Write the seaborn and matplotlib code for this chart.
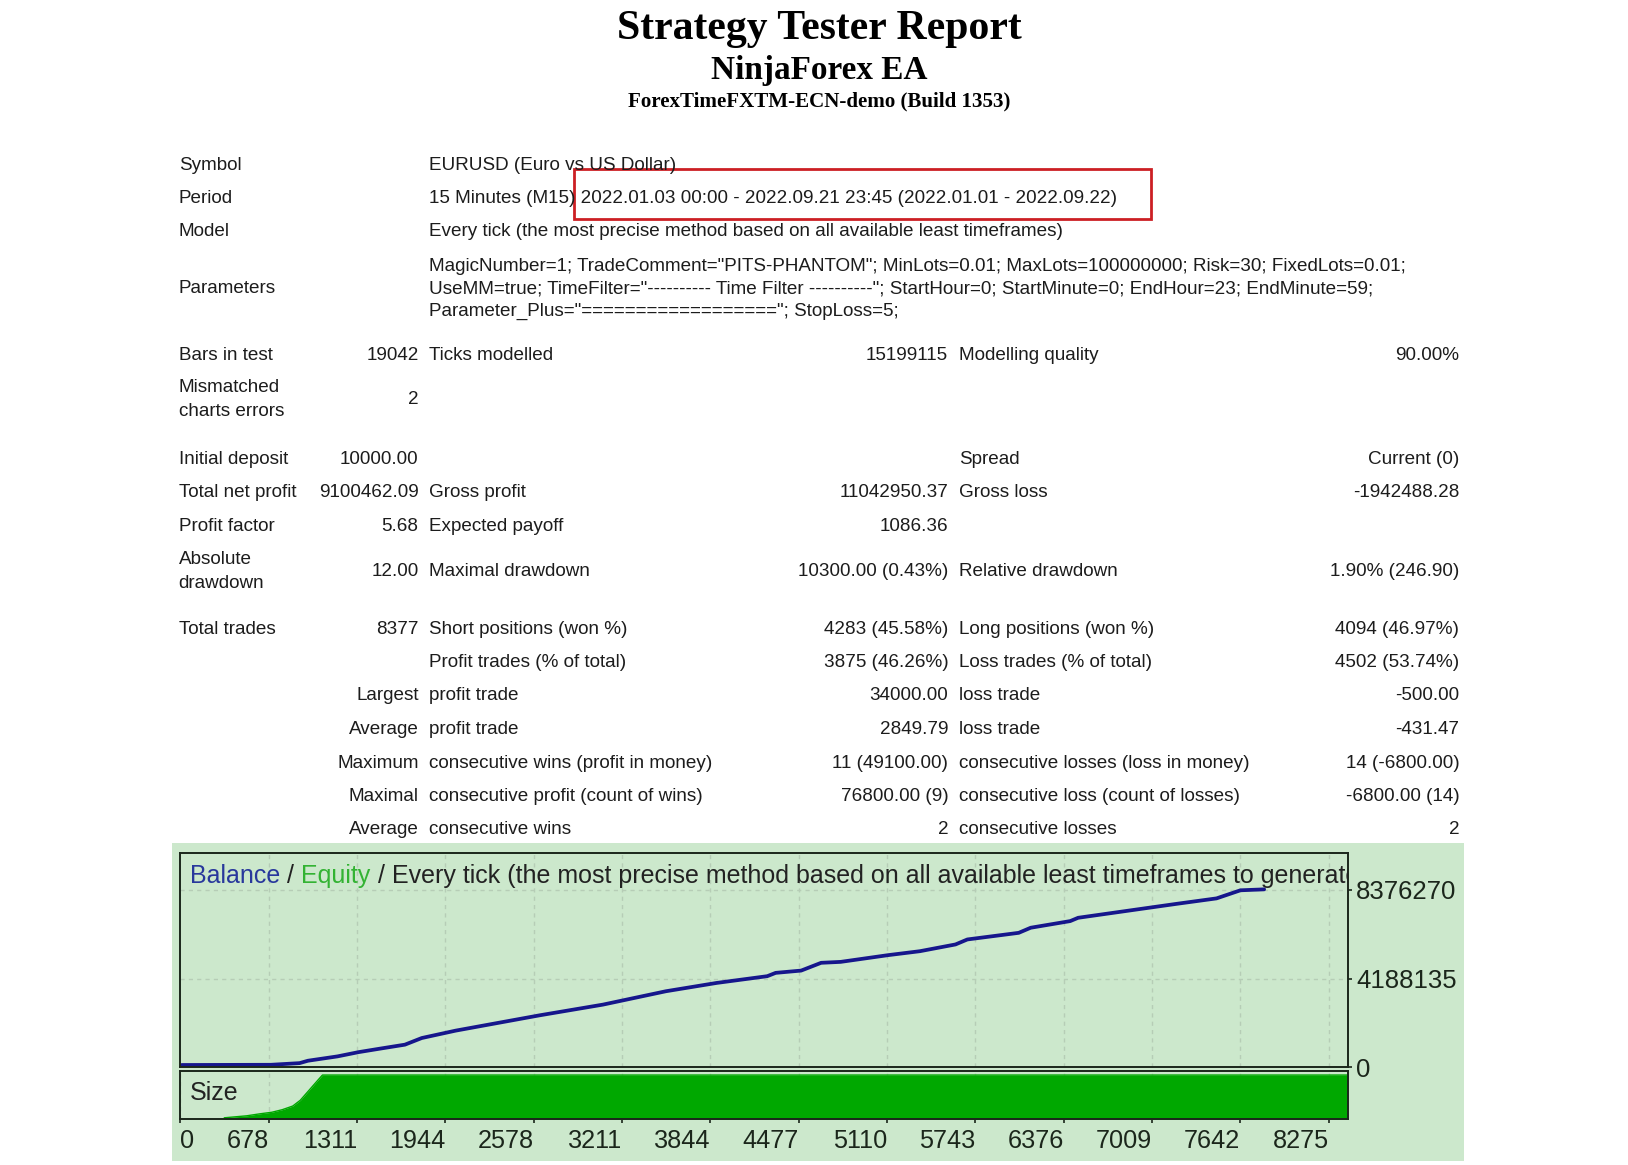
import numpy as np
import pandas as pd
import matplotlib
matplotlib.use("Agg")
import matplotlib.pyplot as plt
from matplotlib.patches import Rectangle
import seaborn as sns

sns.set_theme(style="white")
plt.rcParams["font.family"] = ["Liberation Sans", "DejaVu Sans"]

# ---------------- report text ----------------
title_main = "Strategy Tester Report"
title_ea = "NinjaForex EA"
title_server = "ForexTimeFXTM-ECN-demo (Build 1353)"

info_labels = ["Symbol", "Period", "Model"]
info_values = [
    "EURUSD (Euro vs US Dollar)",
    "15 Minutes (M15) 2022.01.03 00:00 - 2022.09.21 23:45 (2022.01.01 - 2022.09.22)",
    "Every tick (the most precise method based on all available least timeframes)",
]
param_label = "Parameters"
param_lines = [
    'MagicNumber=1; TradeComment="PITS-PHANTOM"; MinLots=0.01; MaxLots=100000000; Risk=30; FixedLots=0.01;',
    'UseMM=true; TimeFilter="---------- Time Filter ----------"; StartHour=0; StartMinute=0; EndHour=23; EndMinute=59;',
    'Parameter_Plus="=================="; StopLoss=5;',
]

stat_col_a = ["Bars in test", "Mismatched\ncharts errors", "Initial deposit", "Total net profit",
              "Profit factor", "Absolute\ndrawdown", "Total trades", "", "", "", "", "", ""]
stat_col_b = ["19042", "2", "10000.00", "9100462.09", "5.68", "12.00", "8377", "",
              "Largest", "Average", "Maximum", "Maximal", "Average"]
stat_col_c = ["Ticks modelled", "", "", "Gross profit", "Expected payoff", "Maximal drawdown",
              "Short positions (won %)", "Profit trades (% of total)", "profit trade", "profit trade",
              "consecutive wins (profit in money)", "consecutive profit (count of wins)", "consecutive wins"]
stat_col_d = ["15199115", "", "", "11042950.37", "1086.36", "10300.00 (0.43%)", "4283 (45.58%)",
              "3875 (46.26%)", "34000.00", "2849.79", "11 (49100.00)", "76800.00 (9)", "2"]
stat_col_e = ["Modelling quality", "", "Spread", "Gross loss", "", "Relative drawdown",
              "Long positions (won %)", "Loss trades (% of total)", "loss trade", "loss trade",
              "consecutive losses (loss in money)", "consecutive loss (count of losses)", "consecutive losses"]
stat_col_f = ["90.00%", "", "Current (0)", "-1942488.28", "", "1.90% (246.90)", "4094 (46.97%)",
              "4502 (53.74%)", "-500.00", "-431.47", "14 (-6800.00)", "-6800.00 (14)", "2"]

# ---------------- chart data ----------------
bal_trade = [54, 694, 899, 959, 1171, 1322, 1473, 1654, 1775, 2017, 2318, 2620, 3073, 3525,
             3888, 4251, 4311, 4494, 4637, 4777, 5118, 5345, 5600, 5685, 6053, 6139, 6422,
             6479, 6904, 7188, 7471, 7642, 7812]
bal_value = [117000, 127000, 205000, 318000, 523000, 723000, 885000, 1075000, 1388000, 1735000,
             2096000, 2458000, 2961000, 3592000, 3983000, 4301000, 4457000, 4565000, 4931000,
             4975000, 5293000, 5478000, 5796000, 6031000, 6343000, 6583000, 6896000, 7052000,
             7448000, 7712000, 7966000, 8347000, 8391000]

size_trade = [359, 520, 615, 700, 775, 850, 904, 968, 1031, 1063, 8410]
size_lots = [3.5, 8, 12.5, 16, 21.8, 30, 43, 66, 88.7, 100, 100]

x_ticks = [678, 1311, 1944, 2578, 3211, 3844, 4477, 5110, 5743, 6376, 7009, 7642, 8275]
y_ticks = [0, 4188135, 8376270]

chart_title = ["Balance", " / ", "Equity",
               " / Every tick (the most precise method based on all available least timeframes to generate"]

# ---------------- layout (reference pixel grid) ----------------
VW, VH = 1567.5, 1123.0
S = 1628.0 / VW

fig = plt.figure(figsize=(16.28, 11.65), dpi=100)
fig.patch.set_facecolor("white")
bg = fig.add_axes([0, 0, 1, 1])
bg.set_xlim(0, VW)
bg.set_ylim(VH, 0)
bg.axis("off")
renderer = fig.canvas.get_renderer()


def fit(text, width, family, weight="normal"):
    t = bg.text(0, 0, text, fontsize=10, fontfamily=family, fontweight=weight)
    w = t.get_window_extent(renderer).width
    t.remove()
    return 10.0 * width * S / w


serif = ["Liberation Serif", "DejaVu Serif"]
sans = ["Liberation Sans", "DejaVu Sans"]
fs_t1 = fit(title_main, 392, serif, "bold")
fs_t2 = fit(title_ea, 209, serif, "bold")
fs_t3 = fit(title_server, 369, serif, "bold")
fs_tab = fit(info_values[2], 614, sans)
fs_chart = fit("".join(chart_title)[:-1], 1119, sans)

bg.text(789, 28, title_main, fontsize=fs_t1, fontfamily=serif, fontweight="bold",
        ha="center", va="center", color="black")
bg.text(789, 68, title_ea, fontsize=fs_t2, fontfamily=serif, fontweight="bold",
        ha="center", va="center", color="black")
bg.text(789, 97.5, title_server, fontsize=fs_t3, fontfamily=serif, fontweight="bold",
        ha="center", va="center", color="black")

ink = "#1c1c1c"


def put(text, x, y, ha):
    if not text:
        return
    lines = text.split("\n")
    off = (len(lines) - 1) * 11.5
    for k, line in enumerate(lines):
        bg.text(x, y + 2.5 - off + 23 * k, line, fontsize=fs_tab, fontfamily=sans,
                ha=ha, va="center", color=ink)


info_y = [157, 189, 221]
for lab, val, y in zip(info_labels, info_values, info_y):
    put(lab, 172, y, "left")
    put(val, 413, y, "left")
put(param_label, 172, 276, "left")
for line, y in zip(param_lines, [254, 276, 298]):
    put(line, 413, y, "left")

stat_row_y = [340, 383, 440, 472, 505, 548, 604, 636, 668, 701, 733, 765, 797]
for i, y in enumerate(stat_row_y):
    put(stat_col_a[i], 172, y, "left")
    put(stat_col_b[i], 403, y, "right")
    put(stat_col_c[i], 413, y, "left")
    put(stat_col_d[i], 913, y, "right")
    put(stat_col_e[i], 923, y, "left")
    put(stat_col_f[i], 1405, y, "right")

# highlight box on the period
bg.add_patch(Rectangle((553, 163), 555, 48, fill=False, edgecolor="#cc1f24", linewidth=2.0))

# green chart panel
panel = "#cce8cc"
bg.add_patch(Rectangle((166, 813), 1244, 306, facecolor=panel, edgecolor="none"))


def axes_rect(x0, y0, x1, y1):
    return [x0 / VW, 1 - y1 / VH, (x1 - x0) / VW, (y1 - y0) / VH]


frame = "#1b261b"
grid_c = "#b6cdb6"
ax_bal = fig.add_axes(axes_rect(173.7, 822, 1297.5, 1029))
ax_size = fig.add_axes(axes_rect(173.7, 1032, 1297.5, 1079))

bal_df = pd.DataFrame({"trade": bal_trade, "balance": bal_value})
size_df = pd.DataFrame({"trade": size_trade, "lots": size_lots})

for ax in (ax_bal, ax_size):
    ax.set_facecolor(panel)
    ax.set_axisbelow(True)
    for sp in ax.spines.values():
        sp.set_color(frame)
        sp.set_linewidth(1.4)
        sp.set_visible(True)
    ax.set_xlim(45, 8410)

sns.lineplot(data=bal_df, x="trade", y="balance", ax=ax_bal, color="#16168c", linewidth=2.7)
ax_bal.set_ylim(0, 10116000)
ax_bal.set_xticks(x_ticks)
ax_bal.tick_params(axis="x", bottom=False, labelbottom=False)
ax_bal.yaxis.tick_right()
ax_bal.set_yticks(y_ticks)
ax_bal.set_yticklabels([str(v) for v in y_ticks])
ax_bal.tick_params(axis="y", right=True, left=False, direction="out", length=3, width=1.2,
                   pad=3, labelsize=fs_chart * 1.03, colors=frame)
ax_bal.grid(True, color=grid_c, linestyle=(0, (3, 3)), linewidth=1)
ax_bal.set_xlabel("")
ax_bal.set_ylabel("")

# chart caption (coloured pieces chained one after the other)
colors = ["#28389c", "#222222", "#33b333", "#222222"]
prev = ax_bal.text(0.0083, 0.893, chart_title[0], transform=ax_bal.transAxes, fontsize=fs_chart,
                   fontfamily=sans, color=colors[0], ha="left", va="center", clip_on=True)
for piece, col in zip(chart_title[1:], colors[1:]):
    prev = ax_bal.annotate(piece, xy=(1, 0), xycoords=prev, ha="left", va="bottom",
                           fontsize=fs_chart, fontfamily=sans, color=col,
                           annotation_clip=False, clip_on=True)

sns.lineplot(data=size_df, x="trade", y="lots", ax=ax_size, color="#00a800", linewidth=1)
ax_size.fill_between(size_df["trade"], size_df["lots"], color="#00a800", linewidth=0)
ax_size.set_ylim(0, 110)
ax_size.set_yticks([])
ax_size.set_xticks([45] + x_ticks)
ax_size.set_xticklabels(["0"] + [str(v) for v in x_ticks])
ax_size.tick_params(axis="x", bottom=True, direction="out", length=3, width=1.2, pad=4,
                    labelsize=fs_chart * 1.01, colors=frame)
for k, lbl in enumerate(ax_size.get_xticklabels()):
    lbl.set_ha("left" if k == 0 else "right")
ax_size.grid(True, axis="x", color=grid_c, linestyle=(0, (3, 3)), linewidth=1)
ax_size.set_xlabel("")
ax_size.set_ylabel("")
ax_size.text(0.008, 0.54, "Size", transform=ax_size.transAxes, fontsize=fs_chart,
             fontfamily=sans, color="#222222", ha="left", va="center")

fig.savefig("out.png", dpi=100)
